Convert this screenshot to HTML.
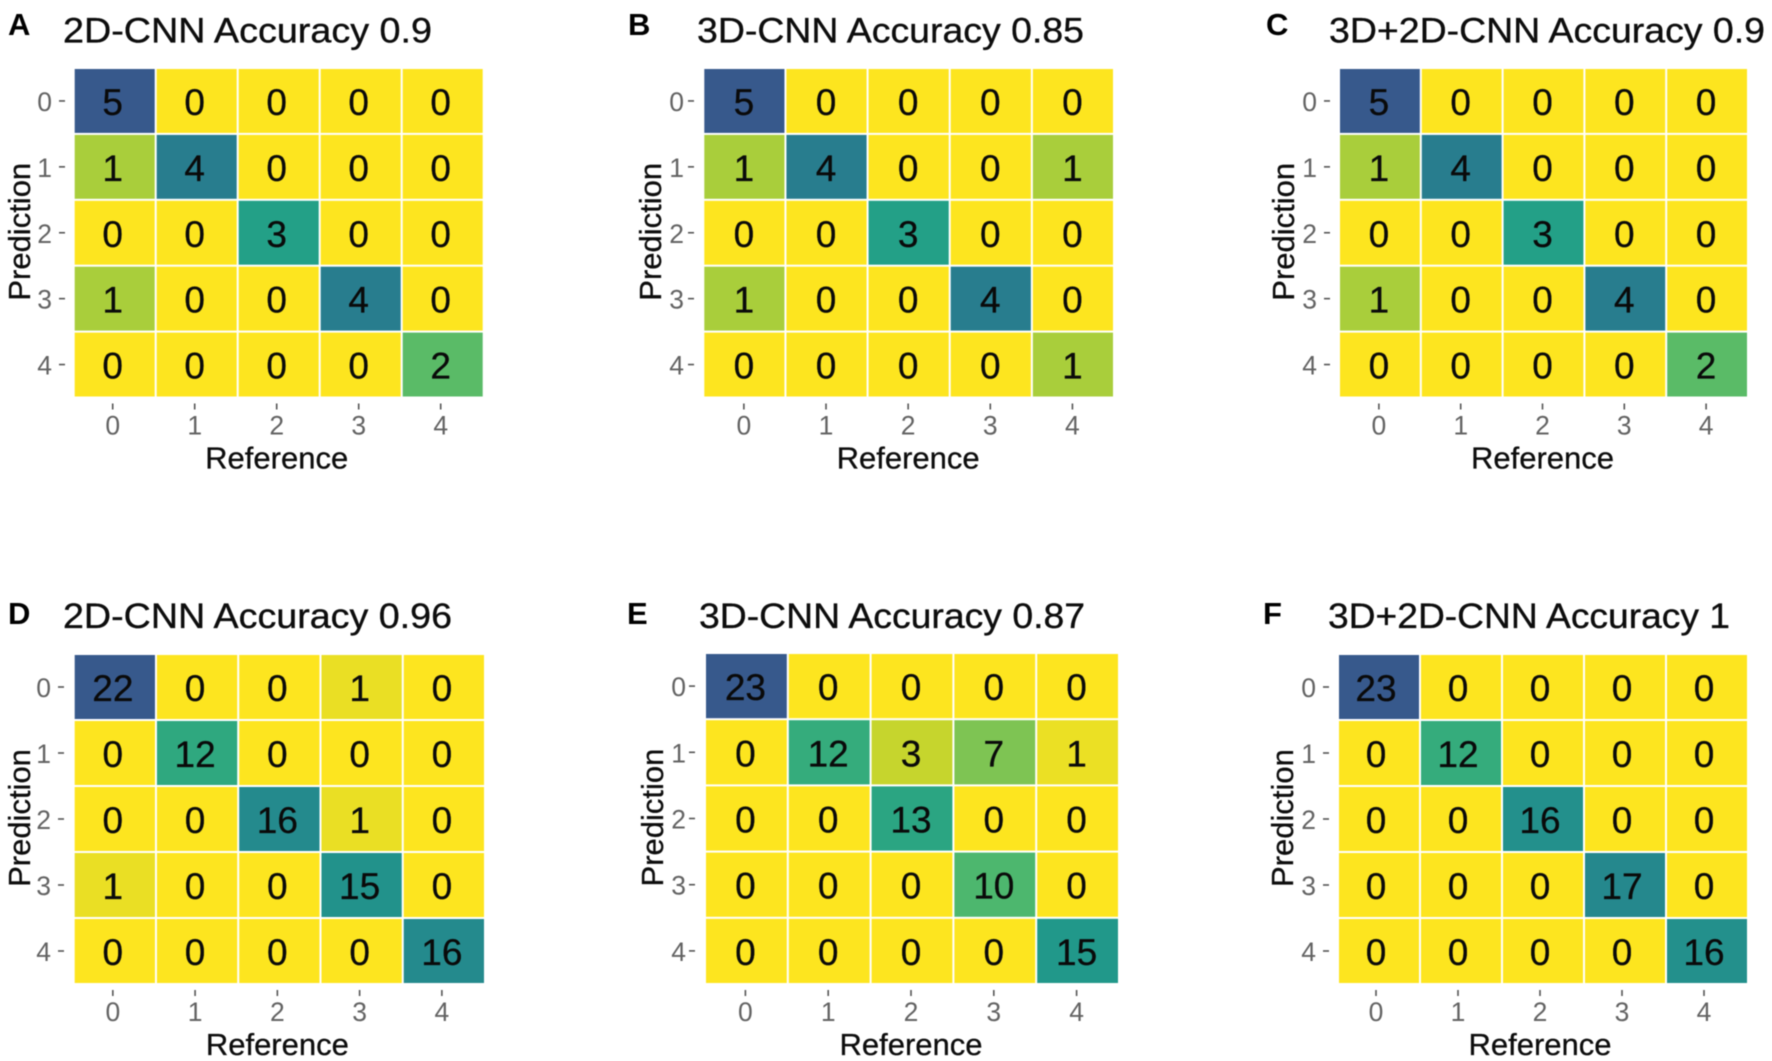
<!DOCTYPE html>
<html lang="en">
<head>
<meta charset="utf-8">
<title>Confusion matrices for CNN models</title>
<style>
  html, body { margin: 0; padding: 0; background: #ffffff; }
  svg { display: block; font-family: "Liberation Sans", Arial, sans-serif; filter: blur(0.45px); }
</style>
</head>
<body>
<svg id="figure" xmlns="http://www.w3.org/2000/svg" width="1772" height="1061" viewBox="0 0 1772 1061"></svg>
<script>
// ---- chart data ----
const categories = ["0", "1", "2", "3", "4"];
const panelLetters = ["A", "B", "C", "D", "E", "F"];
const panelTitles = [
  "2D-CNN Accuracy 0.9",
  "3D-CNN Accuracy 0.85",
  "3D+2D-CNN Accuracy 0.9",
  "2D-CNN Accuracy 0.96",
  "3D-CNN Accuracy 0.87",
  "3D+2D-CNN Accuracy 1"
];
const matrixA = [[5,0,0,0,0],[1,4,0,0,0],[0,0,3,0,0],[1,0,0,4,0],[0,0,0,0,2]];
const matrixB = [[5,0,0,0,0],[1,4,0,0,1],[0,0,3,0,0],[1,0,0,4,0],[0,0,0,0,1]];
const matrixC = [[5,0,0,0,0],[1,4,0,0,0],[0,0,3,0,0],[1,0,0,4,0],[0,0,0,0,2]];
const matrixD = [[22,0,0,1,0],[0,12,0,0,0],[0,0,16,1,0],[1,0,0,15,0],[0,0,0,0,16]];
const matrixE = [[23,0,0,0,0],[0,12,3,7,1],[0,0,13,0,0],[0,0,0,10,0],[0,0,0,0,15]];
const matrixF = [[23,0,0,0,0],[0,12,0,0,0],[0,0,16,0,0],[0,0,0,17,0],[0,0,0,0,16]];
const matrices = [matrixA, matrixB, matrixC, matrixD, matrixE, matrixF];

// ---- layout (separate from the data) ----
const layouts = [
  {left:74.7,  right:482.7,  top:69,  bottom:396.5, letterX:8,    titleX:63,   titleEnd:432,  titleY:42.5, yTitleX:30,   yLabelX:52,   yTickX:59,  letterY:35,  textShift:-2},
  {left:704.3, right:1113,   top:69,  bottom:396.5, letterX:628,  titleX:697,  titleEnd:1084, titleY:42.5, yTitleX:661,  yLabelX:684,  yTickX:688, letterY:35,  textShift:-0.5},
  {left:1340,  right:1747,   top:69,  bottom:396.5, letterX:1266, titleX:1329, titleEnd:1765, titleY:42.5, yTitleX:1294, yLabelX:1317, yTickX:1324,letterY:35,  textShift:-1},
  {left:74.7,  right:484,    top:655, bottom:983,   letterX:8,    titleX:63,   titleEnd:452,  titleY:628,  yTitleX:30,   yLabelX:51,   yTickX:58,  letterY:624, textShift:-2},
  {left:706,   right:1118,   top:654, bottom:983,   letterX:627,  titleX:699,  titleEnd:1085, titleY:628,  yTitleX:663,  yLabelX:686,  yTickX:689, letterY:624, textShift:-1},
  {left:1339,  right:1747,   top:655, bottom:983,   letterX:1263, titleX:1328, titleEnd:1730, titleY:628,  yTitleX:1293, yLabelX:1316, yTickX:1323,letterY:624, textShift:-3}
];

// muted viridis palette stops (position 0..1)
const viridis = ["#440154","#482878","#3e4989","#31688e","#26828e","#1f9e89","#42b474","#7cc454","#bcd230","#fde51f"];

const svg = document.getElementById("figure");
const NS = "http://www.w3.org/2000/svg";

function hexToRgb(h) {
  return [parseInt(h.slice(1,3),16), parseInt(h.slice(3,5),16), parseInt(h.slice(5,7),16)];
}
function colorScale(value, maxValue) {
  const t = 1 - 0.72 * (value / maxValue);
  const p = t * (viridis.length - 1);
  const i = Math.min(Math.floor(p), viridis.length - 2);
  const f = p - i;
  const a = hexToRgb(viridis[i]);
  const b = hexToRgb(viridis[i + 1]);
  return "rgb(" + a.map((c, k) => Math.round(c + (b[k] - c) * f)).join(",") + ")";
}
function xScale(index, L) {
  return (L.left - 1) + index * ((L.right - L.left + 2) / categories.length);
}
function yScale(index, L) {
  return (L.top - 1) + index * ((L.bottom - L.top + 2) / categories.length);
}
function make(tag, attrs, parent) {
  const el = document.createElementNS(NS, tag);
  for (const k in attrs) el.setAttribute(k, attrs[k]);
  parent.appendChild(el);
  return el;
}

matrices.forEach(function (matrix, p) {
  const L = layouts[p];
  const tag = panelLetters[p].toLowerCase();
  const maxValue = Math.max.apply(null, matrix.map(r => Math.max.apply(null, r)));
  const bandW = (L.right - L.left + 2) / categories.length;
  const bandH = (L.bottom - L.top + 2) / categories.length;

  const g = make("g", {}, svg);
  
  

  const letter = make("text", {x: L.letterX, y: L.letterY, "font-size": 31, "font-weight": "bold", fill: "#000"}, g);
  letter.textContent = panelLetters[p];
  
  

  const title = make("text", {x: L.titleX, y: L.titleY, "font-size": 35, fill: "#0d0d0d", stroke: "#0d0d0d", "stroke-width": 0.35, textLength: L.titleEnd - L.titleX, lengthAdjust: "spacingAndGlyphs"}, g);
  title.textContent = panelTitles[p];
  
  

  matrix.forEach(function (row, r) {
    row.forEach(function (value, c) {
      const cell = make("rect", {
        x: xScale(c, L) + 1,
        y: yScale(r, L) + 1,
        width: bandW - 2,
        height: bandH - 2,
        fill: colorScale(value, maxValue)
      }, g);
      
      

      const num = make("text", {
        x: xScale(c, L) + bandW / 2 + L.textShift,
        y: yScale(r, L) + bandH / 2 + 14,
        "font-size": 37,
        "text-anchor": "middle",
        fill: "#0a0a0a",
        stroke: "#0a0a0a",
        "stroke-width": 0.3
      }, g);
      num.textContent = String(value);
      
      
    });
  });

  categories.forEach(function (cat, i) {
    const cx = xScale(i, L) + bandW / 2 + L.textShift;
    const cy = yScale(i, L) + bandH / 2;

    const xTick = make("line", {x1: cx, x2: cx, y1: L.bottom + 7, y2: L.bottom + 13, stroke: "#555", "stroke-width": 1.6}, g);
    
    

    const xLabel = make("text", {x: cx, y: L.bottom + 38, "font-size": 26.5, "text-anchor": "middle", fill: "#636363"}, g);
    xLabel.textContent = cat;
    
    

    const yTick = make("line", {x1: L.yTickX, x2: L.yTickX + 6, y1: cy, y2: cy, stroke: "#555", "stroke-width": 1.6}, g);
    
    

    const yLabel = make("text", {x: L.yLabelX, y: cy + 10, "font-size": 26.5, "text-anchor": "end", fill: "#636363"}, g);
    yLabel.textContent = cat;
    
    
  });

  const xTitle = make("text", {x: (L.left + L.right) / 2 + L.textShift, y: L.bottom + 72, "font-size": 31, "text-anchor": "middle", fill: "#0d0d0d", stroke: "#0d0d0d", "stroke-width": 0.3}, g);
  xTitle.textContent = "Reference";
  
  

  const yMid = (L.top + L.bottom) / 2 - 1;
  const yTitle = make("text", {x: L.yTitleX, y: yMid, "font-size": 31, "text-anchor": "middle", fill: "#0d0d0d", stroke: "#0d0d0d", "stroke-width": 0.3, transform: "rotate(-90 " + L.yTitleX + " " + yMid + ")"}, g);
  yTitle.textContent = "Prediction";
  
  
});
</script>
</body>
</html>
